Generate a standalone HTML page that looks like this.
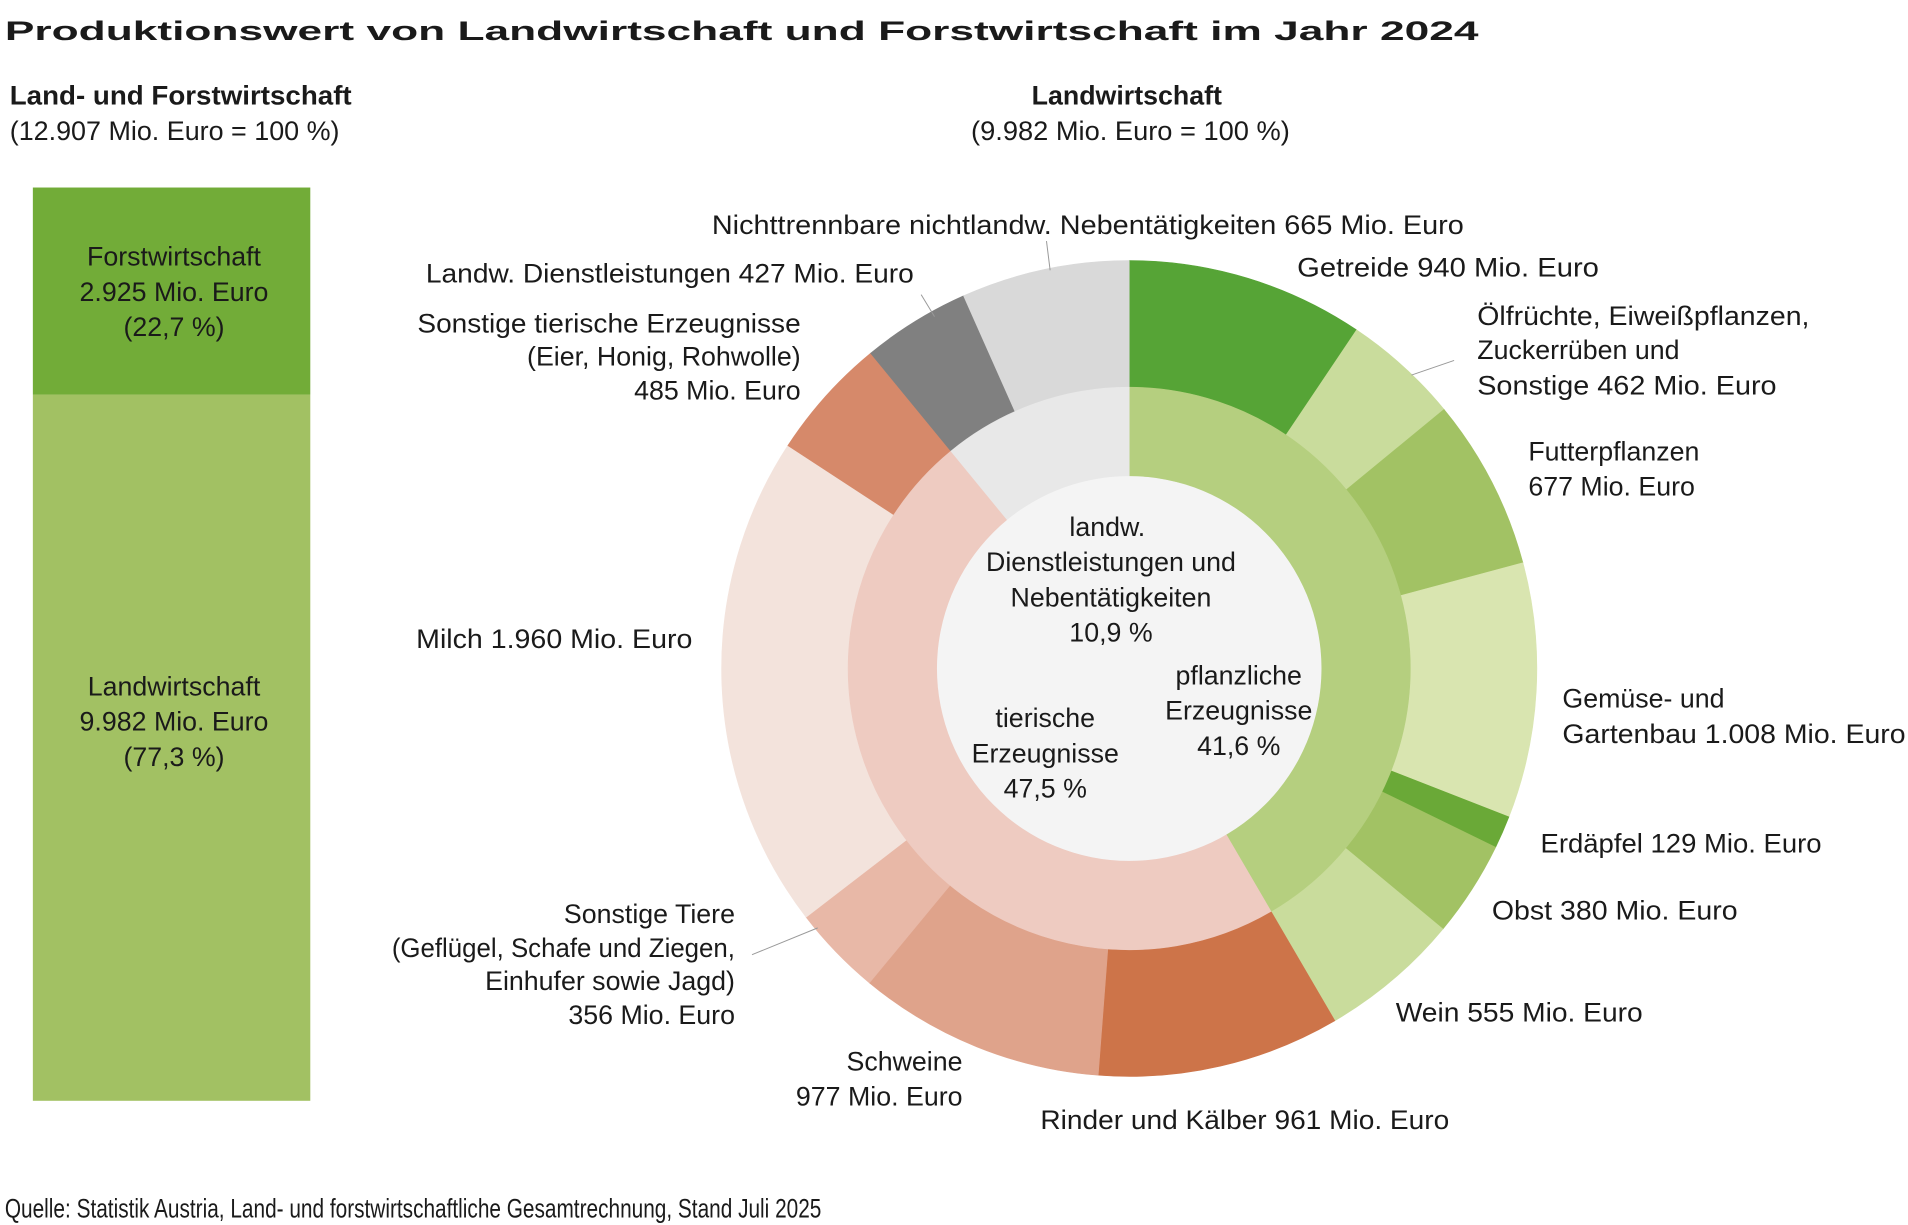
<!DOCTYPE html>
<html><head><meta charset="utf-8"><style>
html,body{margin:0;padding:0;background:#fff}
svg{display:block}
text{font-family:"Liberation Sans",sans-serif;fill:#1a1a1a;font-size:22px}
.b{font-weight:bold}
</style></head><body>
<svg id="s" width="1908" height="1225" viewBox="0 0 1568 1006" preserveAspectRatio="none" xmlns="http://www.w3.org/2000/svg">
<rect width="1568" height="1006" fill="#fff"/>
<g id="pie"></g>
<text class="b" x="4" y="33" font-size="37" textLength="1211" lengthAdjust="spacingAndGlyphs">Produktionswert von Landwirtschaft und Forstwirtschaft im Jahr 2024</text>
<text class="b" x="8" y="86" textLength="281" lengthAdjust="spacingAndGlyphs">Land- und Forstwirtschaft</text>
<text x="8" y="115" textLength="271" lengthAdjust="spacingAndGlyphs">(12.907 Mio. Euro = 100 %)</text>
<text class="b" x="926" y="86" text-anchor="middle">Landwirtschaft</text>
<text x="929" y="115" text-anchor="middle" textLength="262" lengthAdjust="spacingAndGlyphs">(9.982 Mio. Euro = 100 %)</text>
<rect x="27" y="154" width="228" height="170" fill="#72ac38"/>
<rect x="27" y="324" width="228" height="580" fill="#a2c163"/>
<g text-anchor="middle">
<text x="143" y="218">Forstwirtschaft</text>
<text x="143" y="247">2.925 Mio. Euro</text>
<text x="143" y="276">(22,7 %)</text>
<text x="143" y="571">Landwirtschaft</text>
<text x="143" y="600">9.982 Mio. Euro</text>
<text x="143" y="629">(77,3 %)</text>
<text x="910" y="440">landw.</text>
<text x="913" y="469">Dienstleistungen und</text>
<text x="913" y="498">Nebentätigkeiten</text>
<text x="913" y="527">10,9 %</text>
<text x="1018" y="562">pflanzliche</text>
<text x="1018" y="591">Erzeugnisse</text>
<text x="1018" y="620">41,6 %</text>
<text x="859" y="597">tierische</text>
<text x="859" y="626">Erzeugnisse</text>
<text x="859" y="655">47,5 %</text>
</g>
<g stroke="#999" stroke-width="0.8">
<line x1="860" y1="198" x2="863" y2="222"/>
<line x1="757" y1="242" x2="768" y2="260"/>
<line x1="1195" y1="296" x2="1160" y2="308"/>
<line x1="618" y1="784" x2="672" y2="762"/>
</g>
<text x="585" y="192" textLength="618" lengthAdjust="spacingAndGlyphs">Nichttrennbare nichtlandw. Nebentätigkeiten 665 Mio. Euro</text>
<text x="350" y="232" textLength="401" lengthAdjust="spacingAndGlyphs">Landw. Dienstleistungen 427 Mio. Euro</text>
<g text-anchor="end">
<text x="658" y="273" textLength="315" lengthAdjust="spacingAndGlyphs">Sonstige tierische Erzeugnisse</text>
<text x="658" y="300">(Eier, Honig, Rohwolle)</text>
<text x="658" y="328">485 Mio. Euro</text>
<text x="791" y="879">Schweine</text>
<text x="791" y="908">977 Mio. Euro</text>
<text x="604" y="758">Sonstige Tiere</text>
<text x="604" y="786" textLength="282" lengthAdjust="spacingAndGlyphs">(Geflügel, Schafe und Ziegen,</text>
<text x="604" y="813">Einhufer sowie Jagd)</text>
<text x="604" y="841">356 Mio. Euro</text>
</g>
<text x="342" y="532" textLength="227" lengthAdjust="spacingAndGlyphs">Milch  1.960 Mio. Euro</text>
<text x="1066" y="227" textLength="248" lengthAdjust="spacingAndGlyphs">Getreide  940 Mio. Euro</text>
<text x="1214" y="267" textLength="273" lengthAdjust="spacingAndGlyphs">Ölfrüchte, Eiweißpflanzen,</text>
<text x="1214" y="295">Zuckerrüben und</text>
<text x="1214" y="324" textLength="246" lengthAdjust="spacingAndGlyphs">Sonstige  462 Mio. Euro</text>
<text x="1256" y="378">Futterpflanzen</text>
<text x="1256" y="407">677 Mio. Euro</text>
<text x="1284" y="581">Gemüse- und</text>
<text x="1284" y="610" textLength="282" lengthAdjust="spacingAndGlyphs">Gartenbau  1.008 Mio. Euro</text>
<text x="1266" y="700" textLength="231" lengthAdjust="spacingAndGlyphs">Erdäpfel 129 Mio. Euro</text>
<text x="1226" y="755" textLength="202" lengthAdjust="spacingAndGlyphs">Obst 380 Mio. Euro</text>
<text x="1147" y="839" textLength="203" lengthAdjust="spacingAndGlyphs">Wein 555 Mio. Euro</text>
<text x="855" y="927" textLength="336" lengthAdjust="spacingAndGlyphs">Rinder und Kälber  961 Mio. Euro</text>
<text x="4" y="1000" font-size="17" textLength="671" lengthAdjust="spacingAndGlyphs">Quelle: Statistik Austria, Land- und forstwirtschaftliche Gesamtrechnung, Stand Juli 2025</text>
</svg>
<script>
var cx=928,cy=549,T=9982,g=document.getElementById('pie'),NS='http://www.w3.org/2000/svg';
function pt(r,a){return [cx+r*Math.sin(a),cy-r*Math.cos(a)];}
function seg(r1,r2,v0,v1,c){var a0=v0/T*2*Math.PI,a1=v1/T*2*Math.PI,l=(a1-a0)>Math.PI?1:0;
var p1=pt(r2,a0),p2=pt(r2,a1),p3=pt(r1,a1),p4=pt(r1,a0);
var d='M'+p1+' A'+r2+' '+r2+' 0 '+l+' 1 '+p2+' L'+p3+' A'+r1+' '+r1+' 0 '+l+' 0 '+p4+'Z';
var e=document.createElementNS(NS,'path');e.setAttribute('d',d);e.setAttribute('fill',c);e.setAttribute('stroke',c);e.setAttribute('stroke-width','0.5');g.appendChild(e);}
var outer=[[940,'#56a436'],[462,'#c9dc9c'],[677,'#a2c264'],[1008,'#d9e5b0'],[129,'#6aa937'],[380,'#a2c264'],[555,'#c9dc9c'],[961,'#cd7449'],[977,'#dfa38b'],[356,'#e8b8a7'],[1960,'#f3e3dc'],[485,'#d6896a'],[427,'#808080'],[665,'#d9d9d9']];
var s=0;outer.forEach(function(o){seg(231,335,s,s+o[0],o[1]);s+=o[0];});
var inner=[[4151,'#b5cf7f'],[4739,'#eecbc1'],[1092,'#e8e8e8']];
s=0;inner.forEach(function(o){seg(158,231,s,s+o[0],o[1]);s+=o[0];});
var c=document.createElementNS(NS,'circle');c.setAttribute('cx',cx);c.setAttribute('cy',cy);c.setAttribute('r',158);c.setAttribute('fill','#f4f4f4');g.appendChild(c);
</script>
</body></html>
